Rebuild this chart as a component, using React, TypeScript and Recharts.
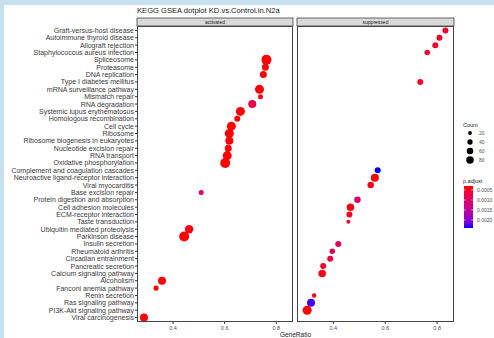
import React from "react";
import { ScatterChart, Scatter, XAxis, YAxis, ZAxis, Cell } from "recharts";

const categories = [
  "Graft-versus-host disease",
  "Autoimmune thyroid disease",
  "Allograft rejection",
  "Staphylococcus aureus infection",
  "Spliceosome",
  "Proteasome",
  "DNA replication",
  "Type I diabetes mellitus",
  "mRNA surveillance pathway",
  "Mismatch repair",
  "RNA degradation",
  "Systemic lupus erythematosus",
  "Homologous recombination",
  "Cell cycle",
  "Ribosome",
  "Ribosome biogenesis in eukaryotes",
  "Nucleotide excision repair",
  "RNA transport",
  "Oxidative phosphorylation",
  "Complement and coagulation cascades",
  "Neuroactive ligand-receptor interaction",
  "Viral myocarditis",
  "Base excision repair",
  "Protein digestion and absorption",
  "Cell adhesion molecules",
  "ECM-receptor interaction",
  "Taste transduction",
  "Ubiquitin mediated proteolysis",
  "Parkinson disease",
  "Insulin secretion",
  "Rheumatoid arthritis",
  "Circadian entrainment",
  "Pancreatic secretion",
  "Calcium signaling pathway",
  "Alcoholism",
  "Fanconi anemia pathway",
  "Renin secretion",
  "Ras signaling pathway",
  "PI3K-Akt signaling pathway",
  "Viral carcinogenesis",
];

const actTerms = [
  "Spliceosome", "Proteasome", "DNA replication", "mRNA surveillance pathway", "Mismatch repair",
  "RNA degradation", "Systemic lupus erythematosus", "Homologous recombination", "Cell cycle", "Ribosome",
  "Ribosome biogenesis in eukaryotes", "Nucleotide excision repair", "RNA transport", "Oxidative phosphorylation",
  "Base excision repair", "Ubiquitin mediated proteolysis", "Parkinson disease", "Alcoholism",
  "Fanconi anemia pathway", "Viral carcinogenesis",
];
const actRatio = [0.762, 0.758, 0.75, 0.735, 0.739, 0.707, 0.661, 0.649, 0.626, 0.618, 0.618, 0.614, 0.61, 0.602, 0.509, 0.462, 0.443, 0.357, 0.334, 0.287];
const actCount = [142, 70, 70, 115, 36, 91, 115, 51, 115, 115, 91, 70, 115, 142, 36, 100, 142, 91, 36, 91];
const actPadj = [0.0003, 0.0003, 0.0003, 0.0003, 0.0004, 0.0008, 0.0003, 0.0003, 0.0003, 0.0003, 0.0003, 0.0003, 0.0003, 0.0003, 0.001, 0.00035, 0.0003, 0.0003, 0.0003, 0.0003];

const supTerms = [
  "Graft-versus-host disease", "Autoimmune thyroid disease", "Allograft rejection", "Staphylococcus aureus infection",
  "Type I diabetes mellitus", "Complement and coagulation cascades", "Neuroactive ligand-receptor interaction",
  "Viral myocarditis", "Protein digestion and absorption", "Cell adhesion molecules", "ECM-receptor interaction",
  "Taste transduction", "Insulin secretion", "Rheumatoid arthritis", "Circadian entrainment", "Pancreatic secretion",
  "Calcium signaling pathway", "Renin secretion", "Ras signaling pathway", "PI3K-Akt signaling pathway",
];
const supRatio = [0.832, 0.809, 0.793, 0.762, 0.735, 0.571, 0.56, 0.544, 0.493, 0.466, 0.462, 0.458, 0.419, 0.396, 0.388, 0.361, 0.357, 0.326, 0.314, 0.299];
const supCount = [51, 51, 51, 43, 51, 51, 91, 60, 60, 80, 51, 23, 51, 43, 51, 51, 80, 29, 91, 115];
const supPadj = [0.0005, 0.0005, 0.0005, 0.0005, 0.0005, 0.0024, 0.0003, 0.0004, 0.001, 0.0004, 0.0004, 0.0005, 0.0009, 0.001, 0.0007, 0.0005, 0.0004, 0.0005, 0.0023, 0.0003];

const xTicks = [0.4, 0.6, 0.8];
const countBreaks = [20, 40, 60, 80];
const padjBreaks = [0.0005, 0.001, 0.0015, 0.002];
const padjLabels = ["0.0005", "0.0010", "0.0015", "0.0020"];

// ---- colour helpers (Lab interpolation like ggplot's gradient) ----
function toLin(c: number) { c /= 255; return c <= 0.04045 ? c / 12.92 : Math.pow((c + 0.055) / 1.055, 2.4); }
function fromLin(c: number) { const v = c <= 0.0031308 ? 12.92 * c : 1.055 * Math.pow(c, 1 / 2.4) - 0.055; return Math.max(0, Math.min(255, Math.round(v * 255))); }
const Xn = 0.95047, Yn = 1.0, Zn = 1.08883;
function f(t: number) { return t > 0.008856 ? Math.cbrt(t) : 7.787 * t + 16 / 116; }
function finv(t: number) { return t > 0.206893 ? t * t * t : (t - 16 / 116) / 7.787; }
function rgb2lab([r, g, b]: number[]) {
  const R = toLin(r), G = toLin(g), B = toLin(b);
  const X = 0.4124 * R + 0.3576 * G + 0.1805 * B;
  const Y = 0.2126 * R + 0.7152 * G + 0.0722 * B;
  const Z = 0.0193 * R + 0.1192 * G + 0.9505 * B;
  const fx = f(X / Xn), fy = f(Y / Yn), fz = f(Z / Zn);
  return [116 * fy - 16, 500 * (fx - fy), 200 * (fy - fz)];
}
function lab2rgb([L, a, bb]: number[]) {
  const fy = (L + 16) / 116, fx = fy + a / 500, fz = fy - bb / 200;
  const X = Xn * finv(fx), Y = Yn * finv(fy), Z = Zn * finv(fz);
  const R = 3.2406 * X - 1.5372 * Y - 0.4986 * Z;
  const G = -0.9689 * X + 1.8758 * Y + 0.0415 * Z;
  const B = 0.0557 * X - 0.204 * Y + 1.057 * Z;
  return `rgb(${fromLin(R)},${fromLin(G)},${fromLin(B)})`;
}
const LAB_LOW = rgb2lab([255, 0, 0]);
const LAB_HIGH = rgb2lab([0, 0, 255]);
const allP = [...actPadj, ...supPadj];
const pMin = Math.min(...allP);
const pMax = Math.max(...allP);
function colorFor(p: number) {
  const t = Math.max(0, Math.min(1, (p - pMin) / (pMax - pMin)));
  return lab2rgb(LAB_LOW.map((v, i) => v + (LAB_HIGH[i] - v) * t));
}

const build = (terms: string[], ratio: number[], count: number[], padj: number[]) =>
  terms.map((t, i) => ({ term: t, y: categories.indexOf(t) + 1, ratio: ratio[i], count: count[i], p: padj[i] }));
const actData = build(actTerms, actRatio, actCount, actPadj);
const supData = build(supTerms, supRatio, supCount, supPadj);

const Z_DOMAIN: [number, number] = [0, 160];
const Z_RANGE: [number, number] = [0, 88.4];
const radiusFor = (c: number) => Math.sqrt((c * (Z_RANGE[1] / Z_DOMAIN[1])) / Math.PI);

const FONT = "'Liberation Sans', Arial, sans-serif";
const X_DOMAIN: [number, number] = [0.26, 0.865];
const Y_DOMAIN: [number, number] = [0.4, categories.length + 0.6];
const yTicks = categories.map((_, i) => i + 1);

const PL = { left: 137, right: 293 };
const PR = { left: 297, right: 454 };
const PTOP = 26, PBOT = 322, STRIP_TOP = 18;

const CB = { x: 464, y: 186, w: 9, h: 42 };

const YTick = (props: any) => {
  const { x, y, payload } = props;
  return (
    <text x={x} y={y} dy={2.5} textAnchor="end" fontSize={7} fill="#3a3a3a" fontFamily={FONT}>
      {categories[payload.value - 1]}
    </text>
  );
};

const XTick = (props: any) => {
  const { x, y, payload } = props;
  return (
    <text x={x} y={y} dy={4.5} textAnchor="middle" fontSize={5.5} fill="#4d4d4d" fontFamily={FONT}>
      {Number(payload.value).toFixed(1)}
    </text>
  );
};

export default function App() {
  const gradStops = Array.from({ length: 11 }, (_, i) => i / 10);
  return (
    <div style={{ position: "fixed", left: 0, top: 0, width: 494, height: 338, background: "#c7e0f0", fontFamily: FONT, overflow: "hidden" }}>
      <div style={{ position: "absolute", left: 4, top: 5, width: 490, height: 333, background: "#ffffff" }} />
      <div style={{ position: "absolute", left: 0, top: 0 }}>
        <ScatterChart width={297} height={338} margin={{ top: PTOP, right: 297 - PL.right, bottom: 4, left: 0 }} style={{ fontFamily: FONT }}>
          <XAxis type="number" dataKey="ratio" domain={X_DOMAIN} ticks={xTicks} interval={0} allowDataOverflow
            axisLine={false} tickLine={{ stroke: "#333" }} tickSize={2} tickMargin={1}
            height={12} tick={<XTick />} />
          <YAxis type="number" dataKey="y" domain={Y_DOMAIN} ticks={yTicks} interval={0} reversed allowDataOverflow
            axisLine={false} tickLine={{ stroke: "#333" }} tickSize={2} tickMargin={1}
            width={PL.left} tick={<YTick />} />
          <ZAxis type="number" dataKey="count" domain={Z_DOMAIN} range={Z_RANGE} />
          <Scatter data={actData} isAnimationActive={false}>
            {actData.map((d, i) => <Cell key={i} fill={colorFor(d.p)} />)}
          </Scatter>
        </ScatterChart>
      </div>
      <div style={{ position: "absolute", left: PR.left, top: 0 }}>
        <ScatterChart width={PR.right - PR.left} height={338} margin={{ top: PTOP, right: 0, bottom: 4, left: 0 }} style={{ fontFamily: FONT }}>
          <XAxis type="number" dataKey="ratio" domain={X_DOMAIN} ticks={xTicks} interval={0} allowDataOverflow
            axisLine={false} tickLine={{ stroke: "#333" }} tickSize={2} tickMargin={1}
            height={12} tick={<XTick />} />
          <YAxis hide type="number" dataKey="y" domain={Y_DOMAIN} reversed allowDataOverflow width={0} />
          <ZAxis type="number" dataKey="count" domain={Z_DOMAIN} range={Z_RANGE} />
          <Scatter data={supData} isAnimationActive={false}>
            {supData.map((d, i) => <Cell key={i} fill={colorFor(d.p)} />)}
          </Scatter>
        </ScatterChart>
      </div>
      <svg width={494} height={338} style={{ position: "absolute", left: 0, top: 0, pointerEvents: "none", fontFamily: FONT }}>
        <defs>
          <linearGradient id="padjGrad" x1="0" y1="0" x2="0" y2="1">
            {gradStops.map((t) => (
              <stop key={t} offset={t} stopColor={colorFor(pMin + t * (pMax - pMin))} />
            ))}
          </linearGradient>
        </defs>
        <text x={137} y={13} fontSize={7.6} fill="#1a1a1a">KEGG GSEA dotplot KD.vs.Control.in.N2a</text>
        {[PL, PR].map((p, i) => (
          <g key={i}>
            <rect x={p.left} y={STRIP_TOP} width={p.right - p.left} height={PTOP - STRIP_TOP} fill="#d9d9d9" stroke="#444" strokeWidth={0.8} />
            <text x={(p.left + p.right) / 2} y={23.8} fontSize={5} fill="#1a1a1a" textAnchor="middle">{i === 0 ? "activated" : "suppressed"}</text>
            <rect x={p.left + 0.5} y={PTOP + 0.5} width={p.right - p.left - 1} height={PBOT - PTOP - 1} fill="none" stroke="#444" strokeWidth={1} />
          </g>
        ))}
        <text x={(PL.left + PR.right) / 2} y={337} fontSize={6.5} fill="#1a1a1a" textAnchor="middle">GeneRatio</text>
        <text x={463} y={127} fontSize={5.5} fill="#1a1a1a">Count</text>
        {countBreaks.map((c, i) => (
          <g key={c}>
            <circle cx={470} cy={133 + i * 9} r={radiusFor(c)} fill="#000" />
            <text x={479} y={133 + i * 9 + 1.8} fontSize={5} fill="#4d4d4d">{c}</text>
          </g>
        ))}
        <text x={463} y={183} fontSize={5.5} fill="#1a1a1a">p.adjust</text>
        <rect x={CB.x} y={CB.y} width={CB.w} height={CB.h} fill="url(#padjGrad)" />
        {padjBreaks.map((p, i) => {
          const yy = CB.y + ((p - pMin) / (pMax - pMin)) * CB.h;
          return (
            <g key={p}>
              <line x1={CB.x} x2={CB.x + 2} y1={yy} y2={yy} stroke="#fff" strokeWidth={0.5} />
              <line x1={CB.x + CB.w - 2} x2={CB.x + CB.w} y1={yy} y2={yy} stroke="#fff" strokeWidth={0.5} />
              <text x={477} y={yy + 1.8} fontSize={5} fill="#4d4d4d">{padjLabels[i]}</text>
            </g>
          );
        })}
      </svg>
    </div>
  );
}
